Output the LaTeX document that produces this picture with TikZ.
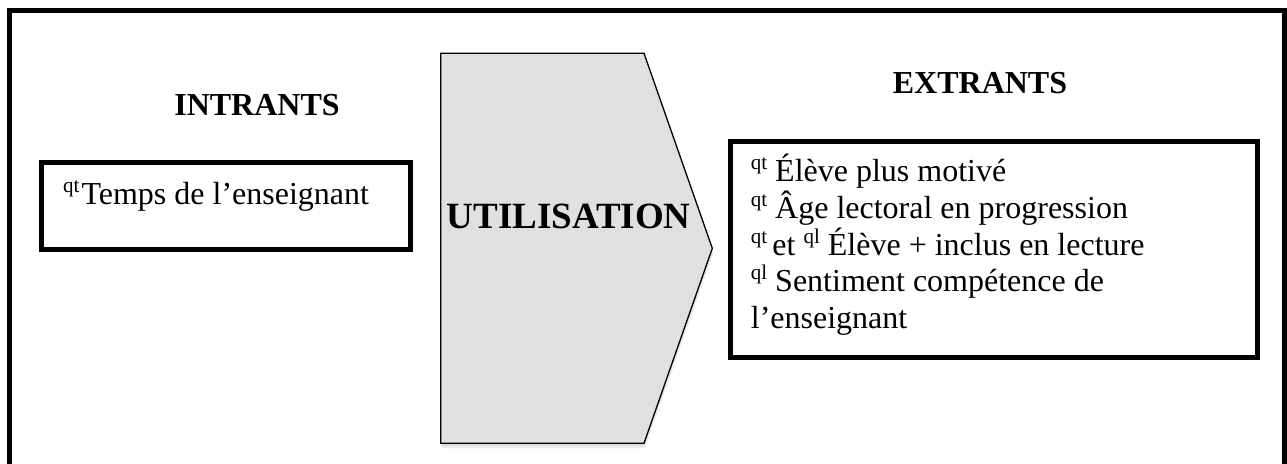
\documentclass[tikz,border=0pt]{standalone}
\usepackage{fontspec}
\setmainfont{Liberation Serif}
\usetikzlibrary{shadows}
\definecolor{procfill}{HTML}{E0E0E0}
\newcommand\qsup[1]{\raisebox{12pt}{\fontsize{21}{21}\selectfont #1}}
\begin{document}
\begin{tikzpicture}[x=1pt,y=-1pt,
  thickbox/.style={draw=black,line width=5pt,inner sep=0pt},
  body/.style={font=\fontsize{32}{36.7}\selectfont,inner sep=0pt},
  head/.style={font=\bfseries\fontsize{32}{36}\selectfont,inner sep=0pt},
  procshape/.style={fill=procfill,draw=black,line width=1.3pt,line join=miter,
    drop shadow={opacity=0.12,shadow xshift=1pt,shadow yshift=-5pt},
    drop shadow={opacity=0.15,shadow xshift=0.5pt,shadow yshift=-3pt}}]
\useasboundingbox (0,0) rectangle (1287,463);
\fill[white] (0,0) rectangle (1287,463);
% outer frame (open at the bottom)
\coordinate (fbl) at (9.5,470);
\coordinate (ftl) at (9.5,10.5);
\coordinate (ftr) at (1284.5,10.5);
\coordinate (fbr) at (1284.5,470);
\draw[line width=5pt] (fbl) -- (ftl) -- (ftr) -- (fbr);
% boxes
\node[thickbox,minimum width=368.2pt,minimum height=87pt] (intrants) at (225.9,206) {};
\node[thickbox,minimum width=527.5pt,minimum height=216.5pt] (extrants) at (993.75,249.25) {};
% process arrow
\coordinate (p1) at (440.7,53.3);
\coordinate (p2) at (644,53.3);
\coordinate (p3) at (712.3,248.3);
\coordinate (p4) at (644,443.3);
\coordinate (p5) at (440.7,443.3);
\path[procshape] (p1) -- (p2) -- (p3) -- (p4) -- (p5) -- cycle;
\node[font=\bfseries\fontsize{37}{37}\selectfont,inner sep=0pt,anchor=base] (util) at (568.7,228) {UTILISATION};
% headings
\node[head,anchor=base] (tin) at (257,115) {INTRANTS};
\node[head,anchor=base] (tout) at (980,93) {EXTRANTS};
% texts
\node[body,anchor=base west] (tintxt) at (63,204) {\qsup{qt}\kern2pt Temps de l’enseignant};
\node[body,anchor=base west] (o1) at (750.7,181.7) {\qsup{qt} Élève plus motivé};
\node[body,anchor=base west] (o2) at (750.7,218.3) {\qsup{qt} Âge lectoral en progression};
\node[body,anchor=base west] (o3) at (750.7,255) {\qsup{qt }et \qsup{ql} Élève + inclus en lecture};
\node[body,anchor=base west] (o4) at (750.7,291.7) {\qsup{ql} Sentiment compétence de};
\node[body,anchor=base west] (o5) at (750.7,328.3) {l’enseignant};
\end{tikzpicture}
\end{document}
